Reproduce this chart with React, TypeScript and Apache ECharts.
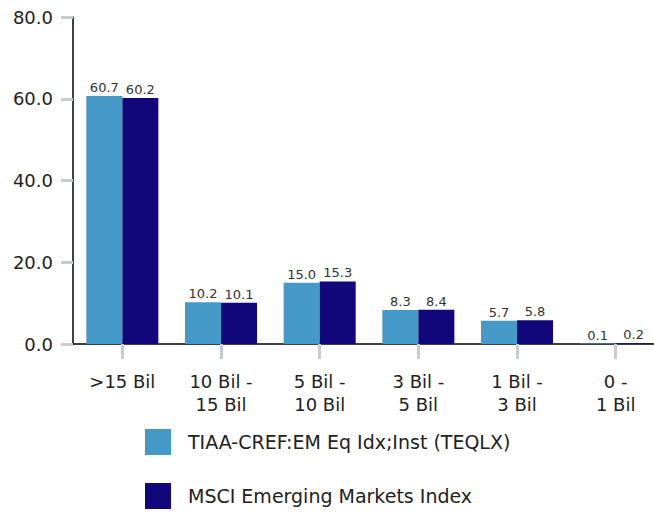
import React, { useEffect, useRef } from "react";
import * as echarts from "echarts";

const categories = [">15 Bil", "10 Bil -\n15 Bil", "5 Bil -\n10 Bil", "3 Bil -\n5 Bil", "1 Bil -\n3 Bil", "0 -\n1 Bil"];
const fundName = "TIAA-CREF:EM Eq Idx;Inst (TEQLX)";
const indexName = "MSCI Emerging Markets Index";
const fundValues = [60.7, 10.2, 15.0, 8.3, 5.7, 0.1];
const indexValues = [60.2, 10.1, 15.3, 8.4, 5.8, 0.2];

const FONT = "DejaVu Sans";

export default function App() {
  const ref = useRef<HTMLDivElement>(null);
  useEffect(() => {
    if (!ref.current) return;
    const chart = echarts.init(ref.current, undefined, { renderer: "svg" });
    const labelCfg = {
      show: true,
      position: "top",
      distance: 2,
      fontSize: 13,
      fontFamily: FONT,
      color: "#333",
      formatter: (p: any) => p.value.toFixed(1),
    };
    chart.setOption({
      animation: false,
      textStyle: { fontFamily: FONT },
      grid: { left: 73, top: 17, width: 592, height: 327, outerBoundsMode: "none", containLabel: false },
      legend: {
        orient: "vertical",
        left: 145,
        top: 429,
        padding: 0,
        itemWidth: 26,
        itemHeight: 26,
        itemGap: 28,
        icon: "rect",
        textStyle: { fontSize: 19, color: "#222", fontFamily: FONT, padding: [0, 0, 0, 12] },
        data: [fundName, indexName],
      },
      xAxis: {
        type: "category",
        data: categories,
        axisLine: { show: true, lineStyle: { color: "#000", width: 1.5 } },
        axisTick: { show: true, alignWithLabel: true, length: 15, lineStyle: { color: "#c8ccd0", width: 3 } },
        axisLabel: { fontSize: 18, color: "#222", margin: 26, lineHeight: 23, fontFamily: FONT },
      },
      yAxis: {
        type: "value",
        min: 0,
        max: 80,
        interval: 20,
        splitLine: { show: false },
        axisLine: { show: true, lineStyle: { color: "#000", width: 1.5 } },
        axisTick: { show: true, length: 12, lineStyle: { color: "#c8ccd0", width: 3 } },
        axisLabel: { fontSize: 18, color: "#222", margin: 20, fontFamily: FONT, formatter: (v: number) => v.toFixed(1) },
      },
      series: [
        {
          name: fundName,
          type: "bar",
          data: fundValues,
          barGap: "0%",
          barCategoryGap: "27%",
          itemStyle: { color: "#4599c6" },
          label: labelCfg,
        },
        {
          name: indexName,
          type: "bar",
          data: indexValues,
          barGap: "0%",
          barCategoryGap: "27%",
          itemStyle: { color: "#12077a" },
          label: labelCfg,
        },
      ],
    });
    return () => chart.dispose();
  }, []);
  return <div ref={ref} style={{ width: 654, height: 514, position: "absolute", left: 0, top: 0 }} />;
}
